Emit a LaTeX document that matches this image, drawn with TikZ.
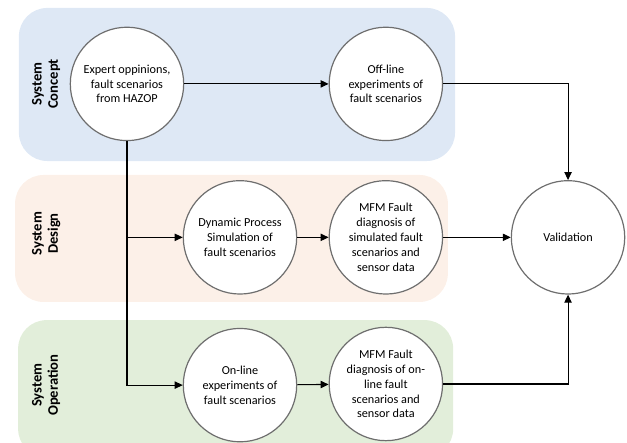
\documentclass[tikz,border=0pt]{standalone}
\usepackage{fontspec}
\setmainfont{Carlito}
\usepackage{tikz}
\usetikzlibrary{arrows.meta, positioning, calc, backgrounds}
\usepackage{xcolor}
\definecolor{PhaseBlue}{HTML}{DEE8F5}
\definecolor{PhaseOrange}{HTML}{FCF0E8}
\definecolor{PhaseGreen}{HTML}{E2EEDA}
\definecolor{RimGray}{HTML}{6E6E6E}
\tikzset{
    stage/.style={
        circle,
        draw=RimGray,
        line width=0.9pt,
        fill=white,
        minimum size=3cm,
        inner sep=1pt,
        align=center,
        font=\fontsize{9.2}{11.2}\selectfont
    },
    panel/.style={
        fill=#1,
        draw=none,
        rounded corners=0.75cm
    },
    panel/.default=PhaseBlue,
    phaselabel/.style={
        rotate=90,
        align=center,
        font=\fontsize{11}{12.2}\selectfont\bfseries
    },
    arrow/.style={
        -{Triangle[length=6pt,width=5.5pt]},
        line width=0.8pt,
        black
    }
}
\begin{document}
\begin{tikzpicture}
    \useasboundingbox (0,0) rectangle (16.59,-11.72);
    % Phase panels
    \fill[panel=PhaseBlue] (0.50,-0.21) rectangle (12.04,-4.26);
    \fill[panel=PhaseOrange] (0.40,-4.63) rectangle (11.85,-7.99);
    \fill[panel=PhaseGreen] (0.48,-8.47) rectangle (11.99,-12.10);

    % Phase labels
    \node[phaselabel] (concept) at (1.22,-2.22) {System\\Concept};
    \node[phaselabel] (design) at (1.22,-6.18) {System\\Design};
    \node[phaselabel] (operation) at (1.22,-10.19) {System\\Operation};

    % Stages
    \node[stage] (expert) at (3.36,-2.22) {Expert oppinions,\\fault scenarios\\from HAZOP};
    \node[stage] (offline) at (10.21,-2.22) {Off-line\\experiments of\\fault scenarios};
    \node[stage] (dynamic) at (6.35,-6.28) {Dynamic Process\\Simulation of\\fault scenarios};
    \node[stage] (mfmsim) at (10.21,-6.28) {MFM Fault\\diagnosis of\\simulated fault\\scenarios and\\sensor data};
    \node[stage] (valid) at (15.03,-6.28) {Validation};
    \node[stage] (online) at (6.35,-10.19) {On-line\\experiments of\\fault scenarios};
    \node[stage] (mfmon) at (10.21,-10.16) {MFM Fault\\diagnosis of on-\\line fault\\scenarios and\\sensor data};

    % Connectors
    \coordinate (branch) at (expert.south |- dynamic.west);
    \draw[arrow] (expert) -- (offline);
    \draw[arrow] (offline.east) -| (valid.north);
    \draw[arrow] (expert.south) |- (online.west);
    \draw[arrow] (branch) -- (dynamic.west);
    \draw[arrow] (dynamic) -- (mfmsim);
    \draw[arrow] (mfmsim) -- (valid);
    \draw[arrow] (online) -- (mfmon);
    \draw[arrow] (mfmon.east) -| (valid.south);
\end{tikzpicture}
\end{document}
